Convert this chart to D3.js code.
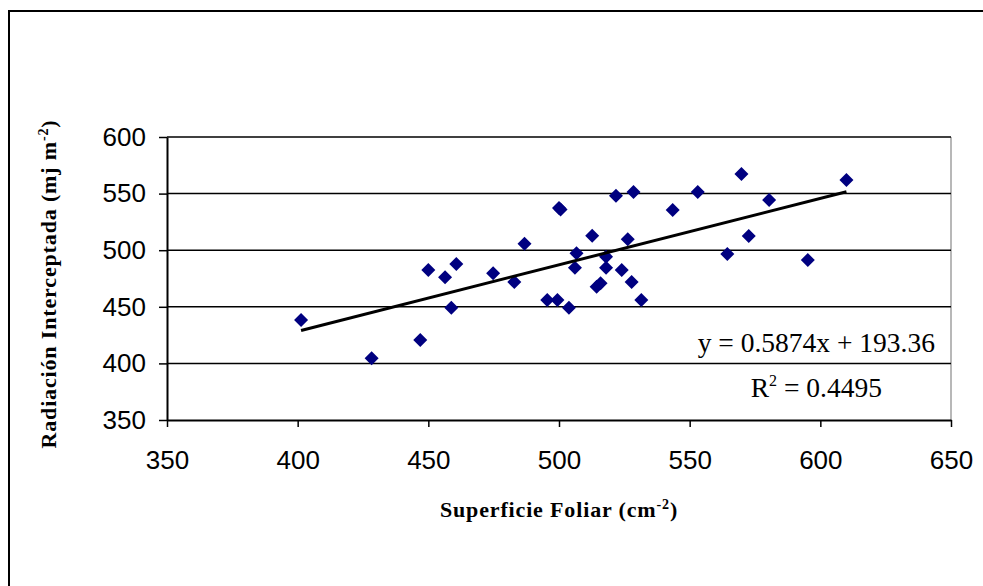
<!DOCTYPE html>
<html>
<head>
<meta charset="utf-8">
<script src="https://cdn.jsdelivr.net/npm/d3@7"></script>
<style>
  body { margin: 0; background: #fff; }
  svg { display: block; }
  .tick text { font-family: Arial, "Liberation Sans", sans-serif; font-size: 26px; fill: #000; }
  .axisTitle { font-family: "Times New Roman", "Liberation Serif", serif; font-weight: bold; font-size: 22px; letter-spacing: 0.85px; }
  .fitLabel { font-family: "Times New Roman", "Liberation Serif", serif; font-size: 27.5px; }
</style>
</head>
<body>
<svg width="983" height="586"></svg>
<script>
// Superficie foliar (cm-2) vs radiación interceptada (mj m-2).
var superficie = [401.3, 428.3, 446.9, 450.0, 456.4, 460.7, 458.8, 474.8, 482.9, 486.8,
  495.5, 499.4, 503.8, 500.0, 500.6, 506.1, 506.7, 512.7, 514.4, 515.9,
  518.0, 518.0, 521.8, 524.0, 526.3, 527.8, 531.5, 528.5, 543.5, 553.1,
  564.4, 569.8, 572.6, 580.4, 595.2, 610.0];
var radiacion = [438.3, 404.5, 420.7, 482.5, 476.0, 487.8, 449.2, 479.6, 471.9, 505.7,
  456.0, 456.0, 449.2, 537.2, 536.0, 484.5, 497.2, 512.8, 467.8, 470.8,
  494.3, 484.5, 548.1, 482.5, 509.6, 471.9, 456.0, 551.4, 535.5, 551.4,
  496.6, 567.3, 512.5, 544.3, 491.3, 562.0];

var xTicks = [350, 400, 450, 500, 550, 600, 650];
var yTicks = [350, 400, 450, 500, 550, 600];

// Trend line as printed on the chart.
var slope = 0.5874;
var intercept = 193.36;
var r2 = 0.4495;

var svg = d3.select("svg");

// Outer chart frame (only left/top edges fall inside the picture).
svg.append("rect")
  .attr("x", 9).attr("y", 11)
  .attr("width", 1000).attr("height", 600)
  .attr("fill", "none")
  .attr("stroke", "#000")
  .attr("stroke-width", 2);

var plotLeft = 167, plotRight = 951, plotTop = 137, plotBottom = 420;

var x = d3.scaleLinear().domain([350, 650]).range([plotLeft, plotRight]);
var y = d3.scaleLinear().domain([350, 600]).range([plotBottom, plotTop]);

// Plot area right edge is light grey.
svg.append("line")
  .attr("x1", plotRight).attr("x2", plotRight)
  .attr("y1", plotTop).attr("y2", plotBottom)
  .attr("stroke", "#a0a0a0")
  .attr("stroke-width", 1.5);

// Horizontal gridlines.
svg.append("g").selectAll("line")
  .data(yTicks.slice(1))
  .enter().append("line")
    .attr("x1", plotLeft).attr("x2", plotRight)
    .attr("y1", function(d) { return y(d); })
    .attr("y2", function(d) { return y(d); })
    .attr("stroke", "#000")
    .attr("stroke-width", 1.5);

var xAxis = svg.append("g")
  .attr("transform", "translate(0," + plotBottom + ")")
  .call(d3.axisBottom(x).tickValues(xTicks).tickSize(7).tickSizeOuter(0).tickPadding(24).tickFormat(d3.format("d")));

var yAxis = svg.append("g")
  .attr("transform", "translate(" + plotLeft + ",0)")
  .call(d3.axisLeft(y).tickValues(yTicks).tickSize(8).tickSizeOuter(0).tickPadding(13).tickFormat(d3.format("d")));

[xAxis, yAxis].forEach(function(a) {
  a.select(".domain").attr("stroke", "#000").attr("stroke-width", 2);
  a.selectAll(".tick line").attr("stroke", "#000").attr("stroke-width", 1.5);
});

// Points as diamonds.
var points = superficie.map(function(v, i) { return { sx: v, ry: radiacion[i] }; });
var r = 7;
svg.append("g").selectAll("path")
  .data(points)
  .enter().append("path")
    .attr("d", "M0," + (-r) + "L" + r + ",0L0," + r + "L" + (-r) + ",0Z")
    .attr("transform", function(d) { return "translate(" + x(d.sx) + "," + y(d.ry) + ")"; })
    .attr("fill", "#000080");

// Linear trend line between min and max x.
var xMin = d3.min(superficie), xMax = d3.max(superficie);
svg.append("line")
  .attr("x1", x(xMin)).attr("y1", y(slope * xMin + intercept))
  .attr("x2", x(xMax)).attr("y2", y(slope * xMax + intercept))
  .attr("stroke", "#000")
  .attr("stroke-width", 3);

svg.append("text")
  .attr("class", "fitLabel")
  .attr("x", 935).attr("y", 352)
  .attr("text-anchor", "end")
  .text("y = " + slope + "x + " + intercept);

var rt = svg.append("text")
  .attr("class", "fitLabel")
  .attr("x", 882).attr("y", 397)
  .attr("text-anchor", "end");
rt.append("tspan").text("R");
rt.append("tspan").attr("font-size", "16px").attr("dy", -11).text("2");
rt.append("tspan").attr("dy", 11).text(" = " + r2);

// Axis titles.
var xt = svg.append("text")
  .attr("class", "axisTitle")
  .attr("x", 559).attr("y", 517)
  .attr("text-anchor", "middle");
xt.append("tspan").text("Superficie Foliar (cm");
xt.append("tspan").attr("font-size", "14px").attr("dy", -8).text("-2");
xt.append("tspan").attr("dy", 8).text(")");

var yt = svg.append("text")
  .attr("class", "axisTitle")
  .attr("transform", "translate(56,284) rotate(-90)")
  .attr("text-anchor", "middle");
yt.append("tspan").text("Radiación Interceptada (mj m");
yt.append("tspan").attr("font-size", "14px").attr("dy", -8).text("-2");
yt.append("tspan").attr("dy", 8).text(")");
</script>
</body>
</html>
